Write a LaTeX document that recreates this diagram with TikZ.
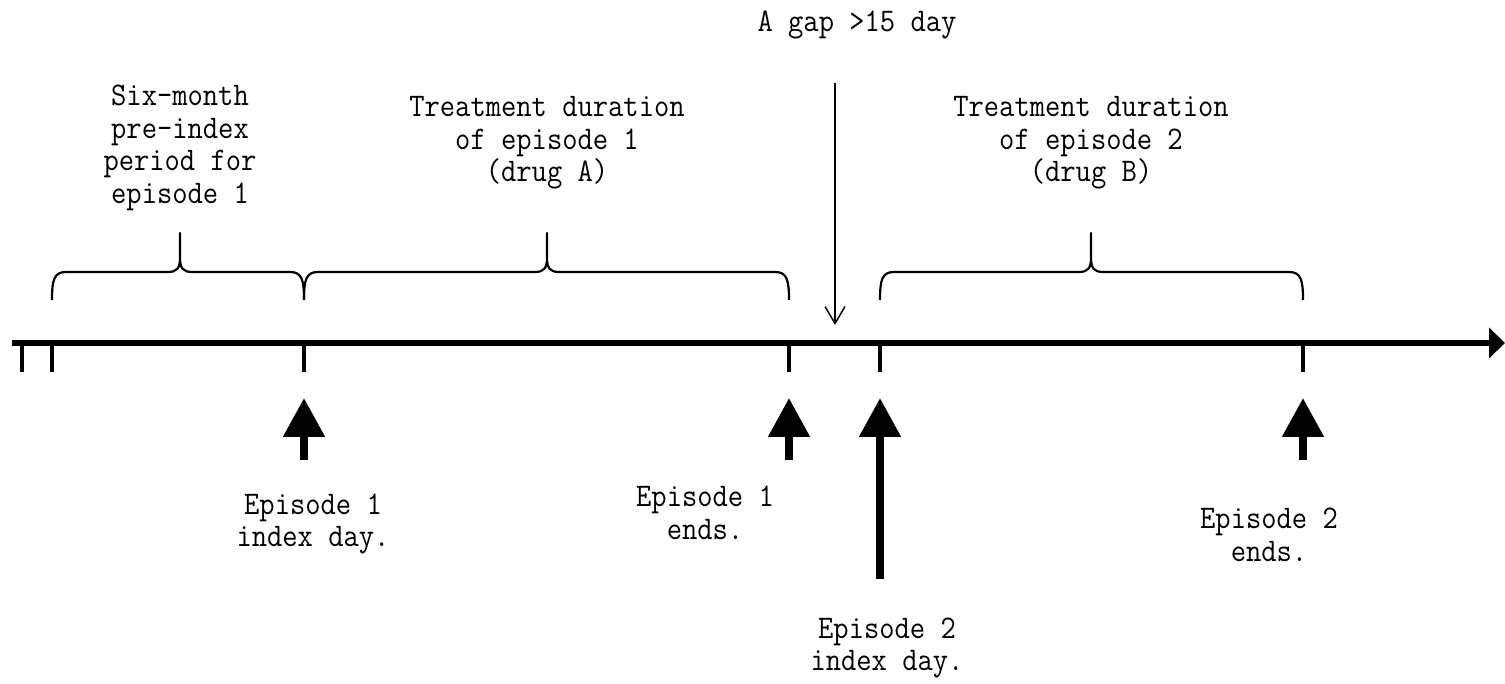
\documentclass[tikz,border=0pt]{standalone}
\usepackage{fontspec}
\newfontfamily\labelfont[FakeStretch=0.9]{Latin Modern Mono}
\usetikzlibrary{arrows.meta, positioning}

\tikzset{
  label/.style={align=center, inner sep=0pt, font=\labelfont\fontsize{33}{32.5}\selectfont},
  tick/.style={line width=4pt},
  event/.style={line width=8pt, -{Triangle[width=40pt,length=39pt]}},
  curly/.style={line width=2.2pt, line join=round}
}

\begin{document}
\begin{tikzpicture}[x=1pt, y=-1pt]
  \useasboundingbox (0,0) rectangle (1505,684);

  % Time axis
  \coordinate (axs) at (12,343);
  \coordinate (axe) at (1505,343);
  \draw[line width=6pt, -{Triangle[width=30pt,length=16pt]}] (axs) -- (axe);

  % Ticks under the axis
  \foreach \x/\n in {22/a, 52/b, 304/c, 789/d, 880/e, 1303/f}{
    \coordinate (t\n) at (\x,342);
    \draw[tick] (t\n) -- ++(0,30);
  }

  % Braces over the periods
  \foreach \a/\m/\b in {52/180/304, 304/547/789, 880/1091/1303}{
    \draw[curly] (\a,300) .. controls (\a,280) and (\a+2,272) .. (\a+14,272)
      -- (\m-12,272) .. controls (\m-3,272) and (\m,268) .. (\m,258) -- (\m,233)
      -- (\m,258) .. controls (\m,268) and (\m+3,272) .. (\m+12,272)
      -- (\b-14,272) .. controls (\b-2,272) and (\b,280) .. (\b,300);
  }

  \node[label] (pre) at (180,148) {Six-month\\pre-index\\period for\\episode 1};
  \node[label] (dur1) at (547,143) {Treatment duration\\of episode 1\\(drug A)};
  \node[label] (dur2) at (1091,143) {Treatment duration\\of episode 2\\(drug B)};

  % The gap
  \node[label] (gap) at (857,25) {A gap >15 day};
  \coordinate (gs) at (835,83);
  \coordinate (ge) at (835,325);
  \draw[line width=1.5pt, -{Straight Barb[width=20pt,length=17pt]}] (gs) -- (ge);

  % Events
  \foreach \x/\n/\y in {304/i1/460, 789/e1/460, 880/i2/579, 1303/e2/460}{
    \coordinate (\n s) at (\x,\y);
    \coordinate (\n e) at (\x,398);
    \draw[event] (\n s) -- (\n e);
  }

  \node[label] (lbi1) at (313,524) {Episode 1\\index day.};
  \node[label] (lbe1) at (705,513) {Episode 1\\ends.};
  \node[label] (lbi2) at (887,648) {Episode 2\\index day.};
  \node[label] (lbe2) at (1269,535) {Episode 2\\ends.};
\end{tikzpicture}
\end{document}
